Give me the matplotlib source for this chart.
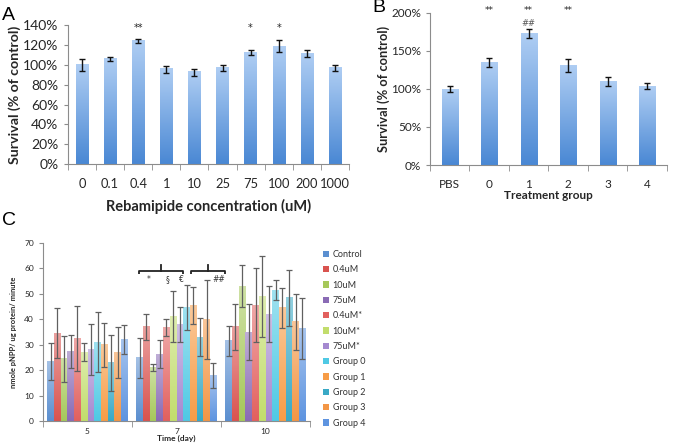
import numpy as np
import matplotlib
matplotlib.use("Agg")
import matplotlib.pyplot as plt
from matplotlib.colors import LinearSegmentedColormap, to_rgb

# ---- panel A data
conc_labels = ["0", "0.1", "0.4", "1", "10", "25", "75", "100", "200", "1000"]
surv_a = [100, 106, 124, 95.5, 92.5, 97, 112.5, 118.5, 111.5, 97]
err_a = [6.3, 2, 2.2, 3.3, 3.3, 3, 2.3, 6, 3.5, 3]
sig_a = ["", "", "**", "", "", "", "*", "*", "", ""]

# ---- panel B data
group_labels = ["PBS", "0", "1", "2", "3", "4"]
surv_b = [99.5, 134.5, 172.5, 130.5, 109.5, 103.5]
err_b = [3.7, 6.4, 6.2, 8.8, 5.3, 4.4]
sig_b = ["", "**", "**", "**", "", ""]

# ---- panel C data
days = ["5", "7", "10"]
series_c = ["Control", "0.4uM", "10uM", "75uM", "0.4uM*", "10uM*", "75uM*",
            "Group 0", "Group 1", "Group 2", "Group 3", "Group 4"]
vals_c = [
    [23.5, 24.8, 31.5],
    [34.5, 37.0, 37.0],
    [24.5, 21.0, 53.0],
    [27.5, 26.2, 35.0],
    [32.5, 36.8, 45.5],
    [27.0, 41.0, 49.0],
    [28.0, 38.0, 42.0],
    [31.0, 44.5, 51.5],
    [30.0, 45.5, 44.5],
    [23.0, 33.0, 48.5],
    [26.8, 40.0, 39.0],
    [32.0, 18.0, 36.2],
]
errs_c = [
    [7.2, 8.0, 6.0],
    [9.8, 5.0, 9.0],
    [9.0, 1.5, 8.3],
    [6.5, 5.5, 11.0],
    [12.7, 3.5, 14.5],
    [3.5, 10.0, 16.0],
    [10.0, 7.0, 11.0],
    [11.8, 8.8, 4.0],
    [8.7, 7.3, 7.8],
    [11.0, 7.5, 11.0],
    [10.0, 15.5, 11.0],
    [5.6, 5.0, 12.0],
]
colors_c = ["#5b8fd0", "#d9534f", "#a6c85a", "#8a6bb5", "#e2605e", "#c2dd6c",
            "#a589d0", "#4fc9e4", "#f79c46", "#39a9c5", "#f39645", "#5e94e0"]

FONT = "Lato"
GRID = "#8c8c8c"
TXT = "#262626"


def lighten(c, f):
    r = np.array(to_rgb(c))
    return tuple(r + (1 - r) * f)


def gradient_bars(ax, bars, c_top, c_bot):
    cmap = LinearSegmentedColormap.from_list("g", [c_bot, c_top])
    grad = np.linspace(0, 1, 64).reshape(-1, 1)
    for b in bars:
        x, y, w, h = b.get_x(), b.get_y(), b.get_width(), b.get_height()
        ax.imshow(grad, extent=(x, x + w, y, y + h), origin="lower", cmap=cmap,
                  aspect="auto", zorder=2, interpolation="bilinear")
        b.set_visible(False)


def excel_axes(ax, n):
    for s in ["top", "right"]:
        ax.spines[s].set_visible(False)
    ax.spines["left"].set_color(GRID)
    ax.spines["bottom"].set_color(GRID)
    ax.set_xlim(-0.5, n - 0.5)
    ax.set_xticks(np.arange(-0.5, n), minor=True)
    ax.tick_params(axis="x", which="major", length=0)
    ax.tick_params(axis="x", which="minor", length=4, color=GRID, direction="out")
    ax.tick_params(axis="y", length=3, color=GRID, direction="out")


fig = plt.figure(figsize=(6.75, 4.45), dpi=100)

# ---------------- A
axA = fig.add_axes([0.1007, 0.6308, 0.4163, 0.313])
xa = np.arange(len(surv_a))
bars = axA.bar(xa, surv_a, width=0.44)
gradient_bars(axA, bars, "#aecdf3", "#4a88d4")
axA.errorbar(xa, surv_a, yerr=err_a, fmt="none", ecolor="#111111", elinewidth=1,
             capsize=2.5, capthick=1, zorder=3)
for x, s in zip(xa, sig_a):
    if s:
        axA.text(x, 137, s, ha="center", va="center", fontsize=7, color=TXT)
excel_axes(axA, len(surv_a))
axA.set_ylim(0, 140)
axA.set_yticks(np.arange(0, 141, 20))
axA.set_yticklabels([f"{v}%" for v in range(0, 141, 20)], fontsize=10, family=FONT, color=TXT)
axA.set_xticks(xa)
axA.set_xticklabels(conc_labels, fontsize=9.3, family=FONT, color=TXT)
axA.tick_params(axis="x", which="major", pad=10)
axA.tick_params(axis="y", pad=4)
axA.set_xlabel("Rebamipide concentration (uM)", fontsize=10.5, family=FONT,
               fontweight="bold", color=TXT, labelpad=6)
axA.set_ylabel("Survival (% of control)", fontsize=10.2, family=FONT,
               fontweight="bold", color=TXT, labelpad=1)
fig.text(0.003, 0.966, "A", fontsize=14, family="Liberation Sans", va="center")

# ---------------- B
axB = fig.add_axes([0.637, 0.6292, 0.351, 0.3427])
xb = np.arange(len(surv_b))
bars = axB.bar(xb, surv_b, width=0.41)
gradient_bars(axB, bars, "#aecdf3", "#4a88d4")
axB.errorbar(xb, surv_b, yerr=err_b, fmt="none", ecolor="#111111", elinewidth=1,
             capsize=2.5, capthick=1, zorder=3)
for x, s in zip(xb, sig_b):
    if s:
        axB.text(x, 202, s, ha="center", va="center", fontsize=6.5, color=TXT, clip_on=False)
axB.text(2, 186, "##", ha="center", va="center", fontsize=6, color="#555555")
excel_axes(axB, len(surv_b))
axB.set_ylim(0, 200)
axB.set_yticks(np.arange(0, 201, 50))
axB.set_yticklabels([f"{v}%" for v in range(0, 201, 50)], fontsize=8.5, family=FONT, color=TXT)
axB.set_xticks(xb)
axB.set_xticklabels(group_labels, fontsize=8.5, family=FONT, color=TXT)
axB.tick_params(axis="x", which="major", pad=10)
axB.set_xlabel("Treatment group", fontsize=8.5, family=FONT, fontweight="bold",
               color=TXT, labelpad=0)
axB.set_ylabel("Survival (% of control)", fontsize=9.3, family=FONT,
               fontweight="bold", color=TXT, labelpad=1)
fig.text(0.551, 0.983, "B", fontsize=14, family="Liberation Sans", va="center")

# ---------------- C
axC = fig.add_axes([0.0637, 0.0539, 0.3956, 0.4])
xc = np.arange(len(days))
nser = len(series_c)
bw = 0.9 / nser
handles = []
for i, (name, v, e, c) in enumerate(zip(series_c, vals_c, errs_c, colors_c)):
    pos = xc - 0.45 + bw * (i + 0.5)
    bars = axC.bar(pos, v, width=bw, color=c, label=name)
    handles.append(bars)
    gradient_bars(axC, bars, lighten(c, 0.45), c)
    axC.errorbar(pos, v, yerr=e, fmt="none", ecolor="#606060", elinewidth=0.9,
                 capsize=2, capthick=0.9, zorder=3)
excel_axes(axC, len(days))
axC.set_ylim(0, 70)
axC.set_yticks(np.arange(0, 71, 10))
axC.set_yticklabels([str(v) for v in range(0, 71, 10)], fontsize=6, family=FONT, color=TXT)
axC.set_xticks(xc)
axC.set_xticklabels(days, fontsize=6, family=FONT, color=TXT)
axC.tick_params(axis="x", which="major", pad=5)
axC.set_xlabel("Time (day)", fontsize=6, family=FONT, fontweight="bold",
               color=TXT, labelpad=0)
axC.set_ylabel("nmole pNPP/ ug protein/ minute", fontsize=5.4, family=FONT,
               fontweight="bold", color=TXT, labelpad=5)

# brackets over day 7
for x0, x1, xm in [(0.582, 1.077, 0.829), (1.165, 1.542, 1.359)]:
    axC.plot([x0, x0, x1, x1], [57.8, 59.1, 59.1, 57.8], color="#222222", lw=1.3,
             zorder=4, solid_capstyle="butt")
    axC.plot([xm, xm], [59.1, 61.2], color="#222222", lw=1.3, zorder=4)
for x, s in [(0.685, "*"), (0.894, "§"), (1.057, "€"), (1.477, "##")]:
    axC.text(x, 55.5, s, ha="center", va="center", fontsize=5.5, color="#333333",
             family="DejaVu Sans", zorder=4)

leg = fig.legend(handles=[h.patches[0] for h in handles], labels=series_c,
                 loc="upper left", bbox_to_anchor=(0.478, 0.438), frameon=False,
                 prop={"family": FONT, "size": 6.5}, handlelength=0.7,
                 handleheight=0.7, handletextpad=0.4, labelspacing=0.7,
                 borderaxespad=0, borderpad=0)
for t in leg.get_texts():
    t.set_color("#333333")
for h, c in zip(leg.legend_handles, colors_c):
    h.set_visible(True)
    h.set_facecolor(c)
fig.text(0.003, 0.504, "C", fontsize=14, family="Liberation Sans", va="center")

fig.savefig("out.png", dpi=100)
